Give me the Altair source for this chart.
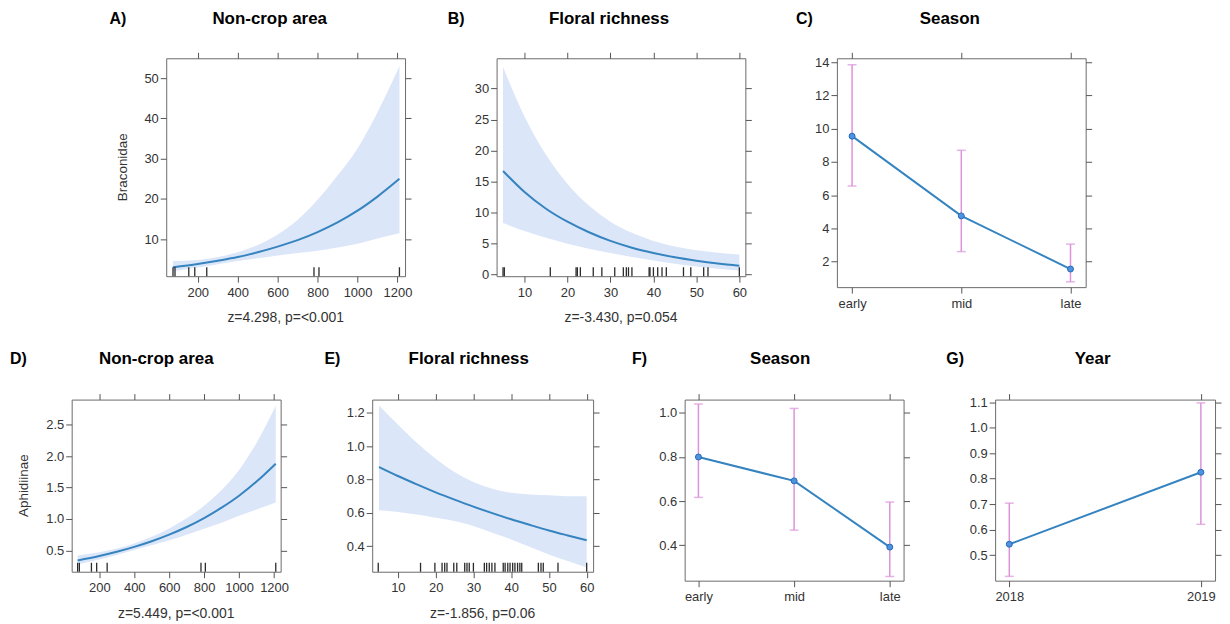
import altair as alt
import pandas as pd

FONT = "Liberation Sans"
LINE = "#3584c0"
BAND = "#dce6f9"
ERR = "#dc93dc"
PT_FILL = "#4d94e0"
PT_STROKE = "#2868b8"
BOX = "#6b6b6b"

# ---- A) Braconidae ~ Non-crop area
a_x = [76, 200, 300, 400, 500, 600, 700, 800, 900, 1000, 1100, 1210]
a_fit = [3.1, 3.9, 4.7, 5.6, 6.8, 8.2, 9.8, 11.8, 14.2, 17.1, 20.6, 25.0]
a_hi = [4.6, 4.9, 5.6, 6.8, 8.6, 11.2, 14.8, 19.8, 25.8, 32.5, 41.5, 53.0]
a_lo = [2.1, 3.0, 3.8, 4.6, 5.3, 6.0, 6.6, 7.2, 8.0, 8.9, 10.2, 11.5]
a_rug = [76, 86, 155, 185, 245, 782, 807, 1210]

# ---- B) Braconidae ~ Floral richness
b_x = [5, 10, 15, 20, 25, 30, 35, 40, 45, 50, 55, 60]
b_fit = [16.7, 13.3, 10.6, 8.5, 6.8, 5.4, 4.3, 3.45, 2.75, 2.2, 1.75, 1.4]
b_hi = [33.5, 25.5, 19.3, 14.6, 11.1, 8.5, 6.7, 5.4, 4.5, 3.9, 3.5, 3.2]
b_lo = [8.3, 7.0, 5.9, 4.95, 4.15, 3.45, 2.8, 2.25, 1.7, 1.25, 0.9, 0.6]
b_rug = [5, 5.3, 16, 22, 22.3, 23, 26, 28, 31, 33, 33.7, 34.2, 35, 39, 39.2,
         40, 41, 42, 43, 47, 48.7, 51.7, 52.7, 60]

# ---- C) Braconidae ~ Season
c_cat = ["early", "mid", "late"]
c_fit = [9.55, 4.75, 1.55]
c_lo = [6.55, 2.6, 0.78]
c_hi = [13.85, 8.7, 3.05]

# ---- D) Aphidiinae ~ Non-crop area
d_x = [76, 200, 300, 400, 500, 600, 700, 800, 900, 1000, 1100, 1210]
d_fit = [0.34, 0.41, 0.477, 0.555, 0.645, 0.75, 0.872, 1.014, 1.18, 1.37, 1.595, 1.88]
d_hi = [0.42, 0.47, 0.53, 0.61, 0.715, 0.85, 1.01, 1.21, 1.46, 1.78, 2.21, 2.80]
d_lo = [0.275, 0.355, 0.425, 0.505, 0.58, 0.66, 0.75, 0.845, 0.94, 1.05, 1.15, 1.26]
d_rug = [76, 86, 155, 185, 245, 782, 807, 1210]

# ---- E) Aphidiinae ~ Floral richness
e_x = [5, 10, 15, 20, 25, 30, 35, 40, 45, 50, 55, 60]
e_fit = [0.875, 0.821, 0.771, 0.723, 0.679, 0.637, 0.598, 0.561, 0.527, 0.494, 0.464, 0.435]
e_hi = [1.245, 1.13, 1.02, 0.925, 0.845, 0.785, 0.745, 0.72, 0.71, 0.705, 0.70, 0.70]
e_lo = [0.615, 0.605, 0.59, 0.57, 0.55, 0.52, 0.48, 0.44, 0.395, 0.35, 0.31, 0.272]
e_rug = [4.8, 16, 19.8, 21.7, 22.4, 23, 24.8, 25.6, 27.7, 28.3, 28.9, 30, 32.9,
         33.5, 34.2, 34.9, 35.7, 37.9, 38.4, 39.1, 39.7, 40.4, 41, 41.7, 42.3,
         42.8, 47.2, 47.9, 48.5, 52.4, 60]

# ---- F) Aphidiinae ~ Season
f_cat = ["early", "mid", "late"]
f_fit = [0.80, 0.692, 0.392]
f_lo = [0.617, 0.469, 0.259]
f_hi = [1.04, 1.02, 0.596]

# ---- G) Aphidiinae ~ Year
g_cat = ["2018", "2019"]
g_fit = [0.543, 0.825]
g_lo = [0.417, 0.621]
g_hi = [0.704, 1.097]


def text_layer(txt, x, y, size, bold=False, align="center", angle=0, color="black"):
    df = pd.DataFrame({"t": [txt]})
    kw = dict(align=align, baseline="middle", font=FONT, fontSize=size,
              color=color)
    if bold:
        kw["fontWeight"] = "bold"
    if angle:
        kw["angle"] = angle
    return alt.Chart(df).mark_text(**kw).encode(
        x=alt.value(x), y=alt.value(y), text="t:N")


def decorations(w, h, letter, lx, ty, title, tx, sub=None, ytitle=None, ytx=None):
    layers = [
        text_layer(letter, lx, ty, 16, bold=True, align="left"),
        text_layer(title, tx, ty, 17, bold=True),
    ]
    if sub:
        layers.append(text_layer(sub, w / 2, h + 42, 14, color="#333333"))
    if ytitle:
        layers.append(text_layer(ytitle, ytx, h / 2, 13.5, angle=270, color="#333333"))
    return layers


def curve_panel(xs, fit, lo, hi, rug, xdom, ydom, xticks, yticks, yfmt, w, h, deco):
    df = pd.DataFrame({"x": xs, "fit": fit, "lo": lo, "hi": hi})
    rdf = pd.DataFrame({"r": rug})
    xsc = alt.Scale(domain=xdom, nice=False, zero=False)
    ysc = alt.Scale(domain=ydom, nice=False, zero=False)
    band = alt.Chart(df).mark_area(color=BAND, opacity=1, interpolate="monotone").encode(
        x=alt.X("x:Q", scale=xsc, title=None,
                axis=alt.Axis(orient="bottom", values=xticks, format="d", labelPadding=4)),
        y=alt.Y("hi:Q", scale=ysc, title=None,
                axis=alt.Axis(orient="left", values=yticks, format=yfmt, labelPadding=2)),
        y2="lo:Q",
    )
    line = alt.Chart(df).mark_line(color=LINE, strokeWidth=2, interpolate="monotone").encode(
        x=alt.X("x:Q", scale=xsc, title=None,
                axis=alt.Axis(orient="top", values=xticks, labels=False)),
        y=alt.Y("fit:Q", scale=ysc, title=None,
                axis=alt.Axis(orient="right", values=yticks, labels=False)),
    )
    rugl = alt.Chart(rdf).mark_rule(color="#2a2a2a", strokeWidth=1.3).encode(
        x=alt.X("r:Q", scale=xsc, axis=None),
        y=alt.value(h), y2=alt.value(h - 9),
    )
    return alt.layer(band, line, rugl, *deco).resolve_axis(
        x="independent", y="independent").properties(width=w, height=h)


def cat_panel(cats, fit, lo, hi, pad, ydom, yticks, yfmt, w, h, deco):
    df = pd.DataFrame({"c": cats, "fit": fit, "lo": lo, "hi": hi})
    xsc = alt.Scale(type="point", domain=cats, padding=pad)
    ysc = alt.Scale(domain=ydom, nice=False, zero=False)
    rule = alt.Chart(df).mark_rule(color=ERR, strokeWidth=1.5).encode(
        x=alt.X("c:N", scale=xsc, title=None,
                axis=alt.Axis(orient="bottom", labelAngle=0, labelPadding=4)),
        y=alt.Y("lo:Q", scale=ysc, title=None,
                axis=alt.Axis(orient="left", values=yticks, format=yfmt, labelPadding=2)),
        y2="hi:Q",
    )
    cap_lo = alt.Chart(df).mark_tick(color=ERR, thickness=1.5, size=9, orient="horizontal").encode(
        x=alt.X("c:N", scale=xsc, axis=None),
        y=alt.Y("lo:Q", scale=ysc, axis=None),
    )
    cap_hi = alt.Chart(df).mark_tick(color=ERR, thickness=1.5, size=9, orient="horizontal").encode(
        x=alt.X("c:N", scale=xsc, axis=None),
        y=alt.Y("hi:Q", scale=ysc, axis=None),
    )
    line = alt.Chart(df).mark_line(color=LINE, strokeWidth=2).encode(
        x=alt.X("c:N", scale=xsc, title=None,
                axis=alt.Axis(orient="top", labels=False)),
        y=alt.Y("fit:Q", scale=ysc, title=None,
                axis=alt.Axis(orient="right", values=yticks, labels=False)),
    )
    pts = alt.Chart(df).mark_point(shape="circle", filled=True, fill=PT_FILL,
                                   stroke=PT_STROKE, strokeWidth=1, size=36,
                                   opacity=1).encode(
        x=alt.X("c:N", scale=xsc, axis=None),
        y=alt.Y("fit:Q", scale=ysc, axis=None),
    )
    return alt.layer(rule, cap_lo, cap_hi, line, pts, *deco).resolve_axis(
        x="independent", y="independent").properties(width=w, height=h)


# panel sizes
AW, AH = 240, 219
BW, BH = 250, 219
CW, CH = 250, 230
DW, DH = 210, 173
EW, EH = 222, 173
FW, FH = 220, 182
GW, GH = 221, 182

pA = curve_panel(a_x, a_fit, a_lo, a_hi, a_rug, [42, 1238], [0.86, 54.9],
                 [200, 400, 600, 800, 1000, 1200], [10, 20, 30, 40, 50], "d", AW, AH,
                 decorations(AW, AH, "A)", -57, -39, "Non-crop area", 104,
                             sub="z=4.298, p=<0.001", ytitle="Braconidae", ytx=-43))
pB = curve_panel(b_x, b_fit, b_lo, b_hi, b_rug, [3.5, 61.4], [-0.3, 34.9],
                 [10, 20, 30, 40, 50, 60], [0, 5, 10, 15, 20, 25, 30], "d", BW, BH,
                 decorations(BW, BH, "B)", -49, -39, "Floral richness", 113,
                             sub="z=-3.430, p=0.054"))
pC = cat_panel(c_cat, c_fit, c_lo, c_hi, 0.139, [0.46, 14.24],
               [2, 4, 6, 8, 10, 12, 14], "d", CW, CH,
               decorations(CW, CH, "C)", -41, -39, "Season", 113.5))

pD = curve_panel(d_x, d_fit, d_lo, d_hi, d_rug, [42, 1238], [0.16, 2.9],
                 [200, 400, 600, 800, 1000, 1200], [0.5, 1.0, 1.5, 2.0, 2.5], ".1f", DW, DH,
                 decorations(DW, DH, "D)", -62, -41, "Non-crop area", 85,
                             sub="z=5.449, p=<0.001", ytitle="Aphidiinae", ytx=-48))
pE = curve_panel(e_x, e_fit, e_lo, e_hi, e_rug, [3.2, 61.7], [0.246, 1.28],
                 [10, 20, 30, 40, 50, 60], [0.4, 0.6, 0.8, 1.0, 1.2], ".1f", EW, EH,
                 decorations(EW, EH, "E)", -48, -41, "Floral richness", 97,
                             sub="z=-1.856, p=0.06"))
pF = cat_panel(f_cat, f_fit, f_lo, f_hi, 0.144, [0.24, 1.06],
               [0.4, 0.6, 0.8, 1.0], ".1f", FW, FH,
               decorations(FW, FH, "F)", -53, -41, "Season", 96))
pG = cat_panel(g_cat, g_fit, g_lo, g_hi, 0.074, [0.40, 1.11],
               [0.5, 0.6, 0.7, 0.8, 0.9, 1.0, 1.1], ".1f", GW, GH,
               decorations(GW, GH, "G)", -49, -41, "Year", 98))

# invisible spacer that shifts the first row to the right
spacer = alt.Chart(pd.DataFrame({"a": [0]})).mark_point(opacity=0).encode(
    x=alt.value(0), y=alt.value(0)
).properties(width=3, height=10, view=alt.ViewBackground(stroke="transparent"))

row1 = alt.hconcat(spacer, pA, pB, pC, spacing=92, bounds="flush")
row2 = alt.hconcat(pD, pE, pF, pG, spacing=92, bounds="flush")

chart = alt.vconcat(row1, row2, spacing=23).properties(
    padding={"left": 1, "top": 0, "right": 0, "bottom": 0}
).configure_view(
    stroke=BOX, strokeWidth=1
).configure_axis(
    domain=False, grid=False, tickColor="#555555", tickSize=6, tickWidth=1,
    labelFont=FONT, labelFontSize=13, labelColor="#333333"
)

chart.save("out.html", embed_options={"renderer": "svg", "actions": False})
